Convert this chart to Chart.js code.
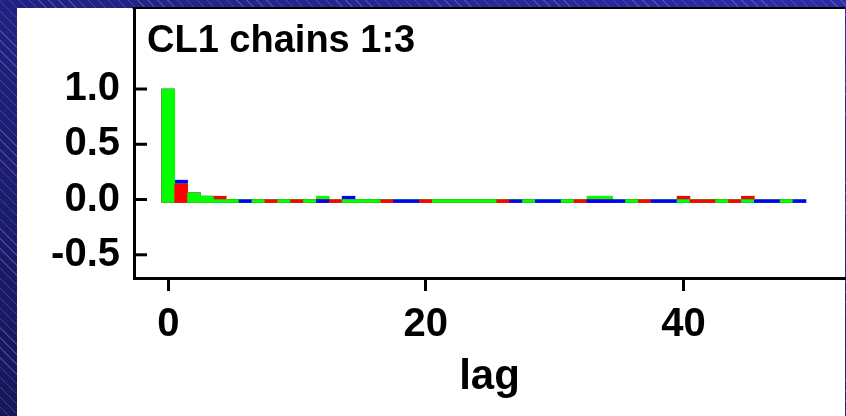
<!DOCTYPE html>
<html>
<head>
<meta charset="utf-8">
<script src="https://cdn.jsdelivr.net/npm/chart.js@4.4.1/dist/chart.umd.min.js"></script>
<style>
  html, body { margin: 0; padding: 0; }
  body {
    width: 846px; height: 416px; overflow: hidden;
    background-color: #1e1e78;
    background-image:
      repeating-linear-gradient(45deg, rgba(0,0,0,0) 0px, rgba(0,0,0,0) 6px, rgba(140,140,210,0.35) 6px, rgba(140,140,210,0.35) 7px),
      linear-gradient(to top right, #16165a, #2c2ca8);
  }
  #wrap { position: absolute; left: 0; top: 0; width: 846px; height: 416px; }
</style>
</head>
<body>
<div id="wrap"><canvas id="acf"></canvas></div>
<script>
// lags (x categories)
var lags = [0,1,2,3,4,5,6,7,8,9,10,11,12,13,14,15,16,17,18,19,20,21,22,23,24,
            25,26,27,28,29,30,31,32,33,34,35,36,37,38,39,40,41,42,43,44,45,46,47,48,49];

// autocorrelation per chain
var chain1 = [1.0,0.175,0.06,0.03,0,0,-0.002,0,0,0,0,0,-0.002,0,0.03,0,0,0,-0.002,-0.002,0,0,0,0,0,
              0,0,-0.002,0,-0.002,-0.002,0,0,-0.002,-0.002,-0.002,0,0,-0.002,-0.002,0,0,0,0,0,0,-0.002,-0.002,0,-0.002];
var chain2 = [1.0,0.14,0.06,0.03,0.03,0,0,0,-0.002,0,-0.002,0,0,-0.002,0,0,0,-0.002,0,0,-0.002,0,0,0,0,
              0,-0.002,0,0,0,0,0,-0.002,0,0,0,0,-0.002,0,0,0.03,-0.002,-0.002,0,-0.002,0.03,0,0,0,0];
var chain3 = [1.0,0.142,0.06,0.03,0,0,0,0,0,0,0,0,0.03,0,0,0,0,0,0,0,0,0,0,0,0,
              0,0,0,0,0,0,0,0,0.03,0.03,0,0,0,0,0,0,0,0,0,0,0,0,0,0,0];

var chainColors = ['#0000ff', '#ff0000', '#00ff00'];
var xTicks = [0, 20, 40];
var yTicks = [-0.5, 0.0, 0.5, 1.0];
var barBase = -0.027;

var chains = [chain1, chain2, chain3];

// at each lag the taller bars go underneath, the shortest one on top
var layers = [
  { data: [], colors: [] },
  { data: [], colors: [] },
  { data: [], colors: [] }
];
for (var i = 0; i < lags.length; i++) {
  var idx = [0, 1, 2].sort(function(a, b) { return chains[b][i] - chains[a][i]; });
  for (var k = 0; k < 3; k++) {
    layers[k].data.push({ x: lags[i], y: chains[idx[k]][i] });
    layers[k].colors.push(chainColors[idx[k]]);
  }
}

var datasets = layers.map(function(l, k) {
  return {
    label: 'layer ' + k,
    data: l.data,
    backgroundColor: l.colors,
    borderWidth: 0,
    grouped: false,
    base: barBase,
    barPercentage: 1.0,
    categoryPercentage: 1.0,
    order: 3 - k
  };
});

var FONT = '"Liberation Sans", Arial, sans-serif';

var panelPlugin = {
  id: 'panel',
  beforeDraw: function(chart) {
    var ctx = chart.ctx;
    ctx.save();
    ctx.fillStyle = '#ffffff';
    ctx.fillRect(17, 8, 828, 408);
    ctx.restore();
  },
  afterDraw: function(chart) {
    var ctx = chart.ctx, a = chart.chartArea, ys = chart.scales.y;
    ctx.save();
    ctx.strokeStyle = '#000';
    // top line of the box
    ctx.lineWidth = 2;
    ctx.beginPath();
    ctx.moveTo(a.left - 1.5, 8);
    ctx.lineTo(a.right, 8);
    ctx.stroke();
    // y ticks point inwards
    ctx.lineWidth = 3;
    yTicks.forEach(function(v) {
      var py = ys.getPixelForValue(v);
      ctx.beginPath();
      ctx.moveTo(a.left, py);
      ctx.lineTo(a.left + 13, py);
      ctx.stroke();
    });
    // title inside plot
    ctx.fillStyle = '#000';
    ctx.font = 'bold 38px ' + FONT;
    ctx.textBaseline = 'alphabetic';
    ctx.textAlign = 'left';
    ctx.fillText('CL1 chains 1:3', 147, 52);
    ctx.restore();
  }
};

new Chart(document.getElementById('acf'), {
  type: 'bar',
  data: { datasets: datasets },
  plugins: [panelPlugin],
  options: {
    responsive: true,
    maintainAspectRatio: false,
    animation: false,
    layout: { padding: { left: 0, top: 8, right: 1, bottom: 0 } },
    plugins: { legend: { display: false }, tooltip: { enabled: false } },
    scales: {
      x: {
        type: 'linear',
        min: -2.66,
        max: 52.54,
        offset: false,
        afterFit: function(s) { s.height = 138; s.paddingLeft = 0; s.paddingRight = 0; },
        afterBuildTicks: function(s) { s.ticks = xTicks.map(function(v) { return { value: v }; }); },
        grid: { offset: false, drawOnChartArea: false, drawTicks: true, tickLength: 13, tickWidth: 3, tickColor: '#000' },
        border: { display: true, color: '#000', width: 3 },
        ticks: { color: '#000', padding: 10, maxRotation: 0, font: { family: FONT, size: 40, weight: 'bold' } },
        title: { display: true, text: 'lag', color: '#000', padding: { top: 0, bottom: 13 },
                 font: { family: FONT, size: 42, weight: 'bold' } }
      },
      y: {
        min: -0.71,
        max: 1.733,
        afterFit: function(s) { s.width = 134; s.paddingTop = 0; s.paddingBottom = 0; },
        afterBuildTicks: function(s) { s.ticks = yTicks.map(function(v) { return { value: v }; }); },
        grid: { drawOnChartArea: false, drawTicks: false },
        border: { display: true, color: '#000', width: 3 },
        ticks: {
          color: '#000', padding: 14,
          font: { family: FONT, size: 40, weight: 'bold' },
          callback: function(v) { return Number(v).toFixed(1); }
        }
      }
    }
  }
});
</script>
</body>
</html>
